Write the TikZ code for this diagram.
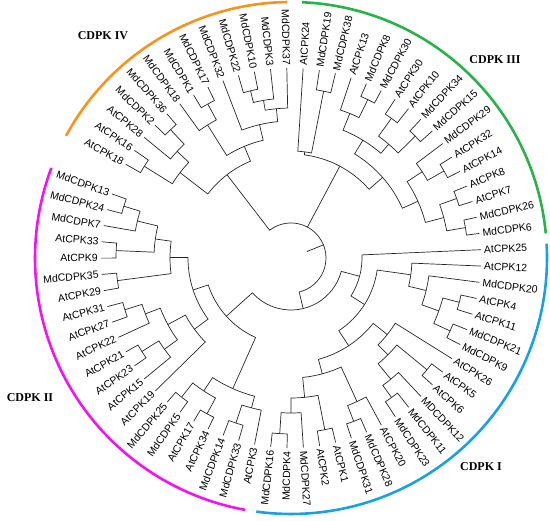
\documentclass[tikz,border=0pt]{standalone}
\usepackage{fontspec}
\setmainfont{Liberation Sans}
\newfontfamily\cladefont{Liberation Serif}
\definecolor{cIII}{RGB}{40,178,74}
\definecolor{cI}{RGB}{27,161,226}
\definecolor{cII}{RGB}{240,20,240}
\definecolor{cIV}{RGB}{247,148,30}
\def\slotsp{4.931507}
\def\tiprad{190}
\newcommand\tleaf[2]{%
  \pgfmathsetmacro\tA{2.5-#1*\slotsp}%
  \expandafter\xdef\csname ang@#2\endcsname{\tA}%
  \expandafter\xdef\csname rad@#2\endcsname{\tiprad}%
  \pgfmathparse{mod(\tA+720,360)}\let\tAn\pgfmathresult
  \ifdim\tAn pt>90pt\relax
    \ifdim\tAn pt<270pt\relax
      \pgfmathsetmacro\tR{\tA+180}%
      \node[leaflab,anchor=east,rotate=\tR] (#2) at (\tA:192pt) {#2};%
    \else
      \node[leaflab,anchor=west,rotate=\tA] (#2) at (\tA:192pt) {#2};%
    \fi
  \else
    \node[leaflab,anchor=west,rotate=\tA] (#2) at (\tA:192pt) {#2};%
  \fi}
\newcommand\tjoin[4]{%
  \edef\jA{\csname ang@#3\endcsname}%
  \edef\jB{\csname ang@#4\endcsname}%
  \edef\rA{\csname rad@#3\endcsname pt}%
  \edef\rB{\csname rad@#4\endcsname pt}%
  \draw[branch] (\jA:\rA) -- (\jA:#2pt) arc[start angle=\jA, end angle=\jB, radius=#2pt] -- (\jB:\rB);%
  \pgfmathsetmacro\jM{(\jA+\jB)/2}%
  \expandafter\xdef\csname ang@#1\endcsname{\jM}%
  \expandafter\xdef\csname rad@#1\endcsname{#2}%
}
\tikzset{
  branch/.style={line width=0.7pt, black!85},
  leaflab/.style={font=\fontsize{10.5}{12}\selectfont, inner sep=1pt},
  cladelab/.style={font=\cladefont\bfseries\fontsize{12}{14}\selectfont, inner sep=0pt},
  cladearc/.style={line width=2.6pt}
}
\begin{document}
\begin{tikzpicture}[x=1pt,y=1pt]
\useasboundingbox (-291,-263) rectangle (259,258);
% leaves
\tleaf{0}{AtCPK25}\tleaf{1}{AtCPK12}\tleaf{2}{MdCDPK20}\tleaf{3}{AtCPK4}
\tleaf{4}{AtCPK11}\tleaf{5}{MdCDPK21}\tleaf{6}{MdCDPK9}\tleaf{7}{AtCPK26}
\tleaf{8}{AtCPK5}\tleaf{9}{AtCPK6}\tleaf{10}{MDCDPK12}\tleaf{11}{MdCDPK11}
\tleaf{12}{MdCDPK23}\tleaf{13}{AtCPK20}\tleaf{14}{MdCDPK28}\tleaf{15}{MdCDPK31}
\tleaf{16}{AtCPK1}\tleaf{17}{AtCPK2}\tleaf{18}{MdCDPK27}\tleaf{19}{MdCDPK4}
\tleaf{20}{MdCDPK16}\tleaf{21}{AtCPK3}\tleaf{22}{MdCDPK33}\tleaf{23}{MdCDPK14}
\tleaf{24}{AtCPK34}\tleaf{25}{AtCPK17}\tleaf{26}{MdCDPK5}\tleaf{27}{MdCDPK25}
\tleaf{28}{AtCPK19}\tleaf{29}{AtCPK15}\tleaf{30}{AtCPK23}\tleaf{31}{AtCPK21}
\tleaf{32}{AtCPK22}\tleaf{33}{AtCPK27}\tleaf{34}{AtCPK31}\tleaf{35}{AtCPK29}
\tleaf{36}{MdCDPK35}\tleaf{37}{AtCPK9}\tleaf{38}{AtCPK33}\tleaf{39}{MdCDPK7}
\tleaf{40}{MdCDPK24}\tleaf{41}{MdCDPK13}
\tleaf{43}{AtCPK18}\tleaf{44}{AtCPK16}\tleaf{45}{AtCPK28}\tleaf{46}{MdCDPK2}
\tleaf{47}{MdCDPK36}\tleaf{48}{MdCDPK18}\tleaf{49}{MdCDPK1}\tleaf{50}{MdCDPK17}
\tleaf{51}{MdCDPK32}\tleaf{52}{MdCDPK22}\tleaf{53}{MdCDPK10}\tleaf{54}{MdCDPK3}
\tleaf{55}{MdCDPK37}\tleaf{56}{AtCPK24}\tleaf{57}{MdCDPK19}\tleaf{58}{MdCDPK38}
\tleaf{59}{AtCPK13}\tleaf{60}{MdCDPK8}\tleaf{61}{MdCDPK30}\tleaf{62}{AtCPK30}
\tleaf{63}{AtCPK10}\tleaf{64}{MdCDPK34}\tleaf{65}{MdCDPK15}\tleaf{66}{MdCDPK29}
\tleaf{67}{AtCPK32}\tleaf{68}{AtCPK14}\tleaf{69}{AtCPK8}\tleaf{70}{AtCPK7}
\tleaf{71}{MdCDPK26}\tleaf{72}{MdCDPK6}
% CDPK III
\tjoin{na}{170}{MdCDPK19}{MdCDPK38}
\tjoin{nb}{107}{AtCPK24}{na}
\tjoin{nc}{176}{MdCDPK8}{MdCDPK30}
\tjoin{nd}{156}{AtCPK13}{nc}
\tjoin{ne}{172}{AtCPK30}{AtCPK10}
\tjoin{nf}{174}{MdCDPK34}{MdCDPK15}
\tjoin{ng}{150}{ne}{nf}
\tjoin{nh}{138}{nd}{ng}
\tjoin{ni}{176}{AtCPK32}{AtCPK14}
\tjoin{nj}{157}{MdCDPK29}{ni}
\tjoin{nk}{176}{AtCPK8}{AtCPK7}
\tjoin{nl}{177}{MdCDPK26}{MdCDPK6}
\tjoin{nm}{158}{nk}{nl}
\tjoin{nn}{139}{nj}{nm}
\tjoin{no}{122}{nh}{nn}
\tjoin{III}{104}{nb}{no}
% CDPK I
\tjoin{ia}{174}{AtCPK4}{AtCPK11}
\tjoin{ib}{175}{MdCDPK21}{MdCDPK9}
\tjoin{ic}{157}{ia}{ib}
\tjoin{id}{139}{MdCDPK20}{ic}
\tjoin{ie}{121}{AtCPK12}{id}
\tjoin{if}{176}{AtCPK5}{AtCPK6}
\tjoin{ig}{172}{MdCDPK11}{MdCDPK23}
\tjoin{ih}{157}{MDCDPK12}{ig}
\tjoin{ii}{137}{if}{ih}
\tjoin{ij}{123}{AtCPK26}{ii}
\tjoin{ik}{175}{MdCDPK28}{MdCDPK31}
\tjoin{il}{158}{AtCPK20}{ik}
\tjoin{im}{175}{AtCPK1}{AtCPK2}
\tjoin{in}{176}{MdCDPK4}{MdCDPK16}
\tjoin{io}{155}{MdCDPK27}{in}
\tjoin{ip}{140}{im}{io}
\tjoin{iq}{120}{il}{ip}
\tjoin{ir}{105}{ij}{iq}
\tjoin{is}{87}{ie}{ir}
\tjoin{I}{71}{AtCPK25}{is}
% CDPK II
\tjoin{ja}{174}{MdCDPK33}{MdCDPK14}
\tjoin{jb}{155}{AtCPK3}{ja}
\tjoin{jc}{177}{AtCPK34}{AtCPK17}
\tjoin{jd}{177}{MdCDPK5}{MdCDPK25}
\tjoin{je}{159}{jc}{jd}
\tjoin{jf}{143}{jb}{je}
\tjoin{jg}{176}{AtCPK23}{AtCPK21}
\tjoin{jh}{156}{AtCPK15}{jg}
\tjoin{ji}{174}{AtCPK27}{AtCPK31}
\tjoin{jj}{156}{AtCPK22}{ji}
\tjoin{jk}{140}{jh}{jj}
\tjoin{jl}{120}{AtCPK19}{jk}
\tjoin{jm}{175}{AtCPK29}{MdCDPK35}
\tjoin{jn}{175}{AtCPK9}{AtCPK33}
\tjoin{jo}{175}{MdCDPK24}{MdCDPK13}
\tjoin{jp}{158}{MdCDPK7}{jo}
\tjoin{jq}{137}{jn}{jp}
\tjoin{jr}{121}{jm}{jq}
\tjoin{js}{103}{jl}{jr}
\tjoin{II}{87}{jf}{js}
\tjoin{IandII}{52}{I}{II}
% CDPK IV
\tjoin{ka}{173}{AtCPK18}{AtCPK16}
\tjoin{kb}{176}{MdCDPK2}{MdCDPK36}
\tjoin{kc}{156}{AtCPK28}{kb}
\tjoin{kd}{140}{ka}{kc}
\tjoin{ke}{175}{MdCDPK1}{MdCDPK17}
\tjoin{kf}{157}{MdCDPK18}{ke}
\tjoin{kg}{172}{MdCDPK22}{MdCDPK10}
\tjoin{kh}{160}{kg}{MdCDPK3}
\tjoin{ki}{150}{kh}{MdCDPK37}
\tjoin{kj}{137}{MdCDPK32}{ki}
\tjoin{kk}{121}{kf}{kj}
\tjoin{IV}{105}{kd}{kk}
% root
\edef\tmpIV{\csname ang@IV\endcsname}
\pgfmathsetmacro\aIV{\tmpIV+360}
\edef\aIII{\csname ang@III\endcsname}
\edef\aIandII{\csname ang@IandII\endcsname}
\draw[branch] (\aIV:105pt) -- (\aIV:35pt) arc[start angle=\aIV, end angle=\aIandII, radius=35pt] -- (\aIandII:52pt);
\draw[branch] (\aIII:35pt) -- (\aIII:104pt);
\draw[branch] (22:17pt) -- (22:35pt);
% clade arcs
\draw[cladearc,cIII] (87.5:256pt) arc[start angle=87.5, end angle=5.5, radius=256pt];
\draw[cladearc,cI] (3.2:256pt) arc[start angle=3.2, end angle=-97.8, radius=256pt];
\draw[cladearc,cII] (-100.3:256pt) arc[start angle=-100.3, end angle=-200.6, radius=256pt];
\draw[cladearc,cIV] (151.5:256pt) arc[start angle=151.5, end angle=90.8, radius=256pt];
% clade labels
\node[cladelab] (labIII) at (204,198) {CDPK III};
\node[cladelab] (labI) at (190,-209) {CDPK I};
\node[cladelab] (labII) at (-261,-140) {CDPK II};
\node[cladelab] (labIV) at (-188,222) {CDPK IV};
\end{tikzpicture}
\end{document}
